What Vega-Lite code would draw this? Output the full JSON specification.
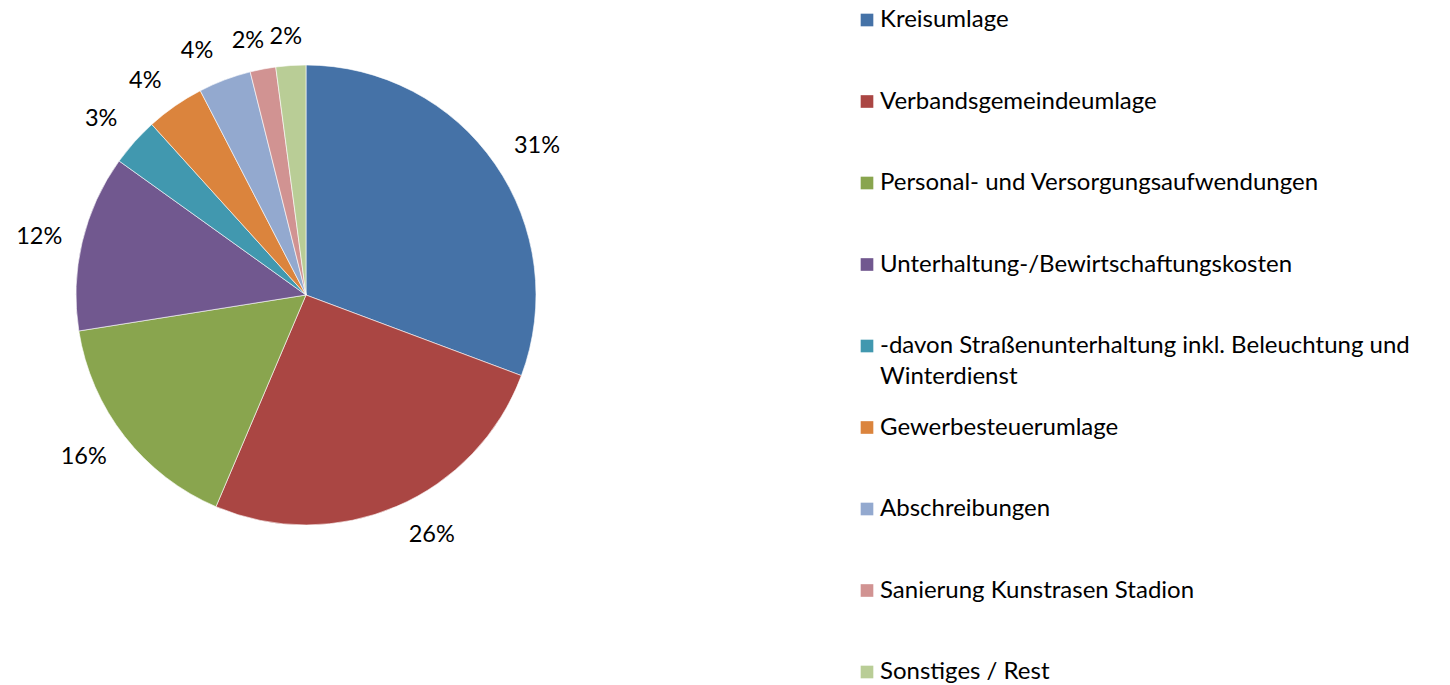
{
  "$schema": "https://vega.github.io/schema/vega-lite/v6.json",
  "width": 612,
  "height": 590,
  "padding": 0,
  "autosize": {"type": "pad"},
  "background": "white",
  "config": {"view": {"stroke": null}, "font": "Lato", "style": {"guide-label": {"lineHeight": 31}}},
  "data": {
    "values": [
      {"idx": 1, "cat": "Kreisumlage", "value": 30.7, "label": "31%"},
      {"idx": 2, "cat": "Verbandsgemeindeumlage", "value": 25.7, "label": "26%"},
      {"idx": 3, "cat": "Personal- und Versorgungsaufwendungen", "value": 16.1, "label": "16%"},
      {"idx": 4, "cat": "Unterhaltung-/Bewirtschaftungskosten", "value": 12.4, "label": "12%"},
      {"idx": 5, "cat": "-davon Straßenunterhaltung inkl. Beleuchtung und Winterdienst", "value": 3.4, "label": "3%"},
      {"idx": 6, "cat": "Gewerbesteuerumlage", "value": 4.1, "label": "4%"},
      {"idx": 7, "cat": "Abschreibungen", "value": 3.7, "label": "4%"},
      {"idx": 8, "cat": "Sanierung Kunstrasen Stadion", "value": 1.8, "label": "2%"},
      {"idx": 9, "cat": "Sonstiges / Rest", "value": 2.1, "label": "2%"}
    ]
  },
  "encoding": {
    "theta": {"field": "value", "type": "quantitative", "stack": true},
    "order": {"field": "idx", "type": "quantitative"}
  },
  "layer": [
    {
      "mark": {"type": "arc", "outerRadius": 230, "stroke": "white", "strokeWidth": 0.6},
      "encoding": {
        "color": {
          "field": "cat",
          "type": "nominal",
          "scale": {
            "domain": ["Kreisumlage", "Verbandsgemeindeumlage", "Personal- und Versorgungsaufwendungen", "Unterhaltung-/Bewirtschaftungskosten", "-davon Straßenunterhaltung inkl. Beleuchtung und Winterdienst", "Gewerbesteuerumlage", "Abschreibungen", "Sanierung Kunstrasen Stadion", "Sonstiges / Rest"],
            "range": ["#4572A7", "#AA4643", "#89A54E", "#71588F", "#4198AF", "#DB843D", "#93A9CF", "#D19392", "#B9CD96"]
          },
          "legend": {
            "title": null,
            "orient": "none",
            "legendX": 855,
            "legendY": 8,
            "symbolType": "square",
            "symbolSize": 160,
            "symbolStrokeWidth": 0,
            "symbolOpacity": 1,
            "labelFontSize": 24,
            "labelFont": "Lato",
            "labelColor": "black",
            "labelLimit": 700,
            "labelOffset": 1,
            "gridAlign": "all",
            "rowPadding": 26.5,
            "labelExpr": "indexof(datum.label, 'Winterdienst') >= 0 ? ['-davon Straßenunterhaltung inkl. Beleuchtung und', 'Winterdienst'] : datum.label"
          }
        }
      }
    },
    {
      "mark": {
        "type": "text",
        "fontSize": 23.5,
        "font": "Lato",
        "color": "black",
        "radius": {"expr": "[0, 275, 271, 275, 273, 270, 268, 267, 261, 259][datum.idx]"},
        "thetaOffset": {"expr": "[0, 0.033, -0.077, 0.033, -0.019, -0.019, -0.037, -0.059, -0.036, -0.012][datum.idx]"}
      },
      "encoding": {
        "detail": {"field": "cat"},
        "text": {"field": "label"}
      }
    }
  ]
}
